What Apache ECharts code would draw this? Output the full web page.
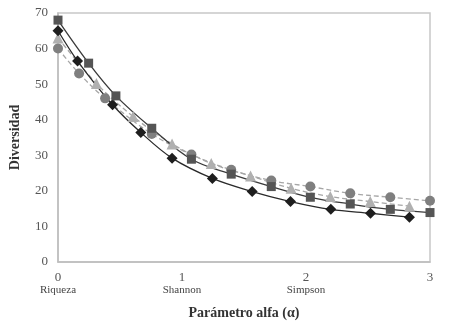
<!DOCTYPE html>
<html>
<head>
<meta charset="utf-8">
<script src="https://cdn.jsdelivr.net/npm/echarts@6/dist/echarts.min.js"></script>
<style>
  html, body { margin: 0; padding: 0; background: #fff; }
  #show_picture { width: 454px; height: 331px; }
</style>
</head>
<body>
<div id="show_picture"></div>
<script>
// valores
const alphaRombo = [0, 0.158, 0.44, 0.668, 0.92, 1.245, 1.566, 1.875, 2.2, 2.52, 2.834];
const divRombo = [65, 56.5, 44.2, 36.4, 29.2, 23.5, 19.8, 17, 14.8, 13.7, 12.6];

const alphaCuadro = [0, 0.247, 0.467, 0.756, 1.076, 1.397, 1.72, 2.035, 2.357, 2.68, 3.0];
const divCuadro = [68, 55.9, 46.7, 37.6, 28.9, 24.7, 21.2, 18.2, 16.3, 14.8, 13.9];

const alphaTriang = [0, 0.31, 0.606, 0.92, 1.236, 1.553, 1.88, 2.196, 2.518, 2.834];
const divTriang = [63, 50.2, 40.9, 33.2, 27.7, 24.2, 20.7, 18.4, 17, 15.7];

const alphaCirc = [0, 0.17, 0.38, 0.756, 1.076, 1.397, 1.72, 2.035, 2.357, 2.68, 3.0];
const divCirc = [60, 53, 46, 36, 30.2, 25.9, 22.9, 21.2, 19.3, 18.2, 17.2];

const xTicks = {0: 'Riqueza', 1: 'Shannon', 2: 'Simpson'};

const zip = (a, b) => a.map((x, i) => [x, b[i]]);

let myChart = echarts.init(document.getElementById('show_picture'));

const serif = '"Liberation Serif", "DejaVu Serif", serif';

function serie(name, data, symbol, color, lineColor, dashed, size) {
    return {
        name: name,
        type: 'line',
        data: data,
        smooth: 0.35,
        symbol: symbol,
        symbolSize: size,
        itemStyle: {color: color},
        lineStyle: {color: lineColor, width: 1.3, type: dashed ? [5, 3] : 'solid'}
    };
}

let option = {
    animation: false,
    grid: {
        left: 57, right: 24, top: 13, bottom: 69,
        show: true, borderColor: '#c8c8c8', borderWidth: 1.5
    },
    xAxis: {
        type: 'value',
        min: 0, max: 3, interval: 1,
        name: 'Parámetro alfa (α)',
        nameLocation: 'middle',
        nameGap: 44,
        nameTextStyle: {fontFamily: serif, fontWeight: 'bold', fontSize: 14, color: '#333'},
        axisLine: {show: true, lineStyle: {color: '#bdbdbd', width: 1.5}},
        axisTick: {show: false},
        splitLine: {show: false},
        axisLabel: {
            margin: 9,
            fontFamily: serif,
            color: '#555',
            lineHeight: 13,
            formatter: v => xTicks[v] !== undefined ? '{n|' + v + '}\n{s|' + xTicks[v] + '}' : '{n|' + v + '}\n{s| }',
            rich: {
                n: {fontFamily: serif, fontSize: 13, color: '#555', lineHeight: 13},
                s: {fontFamily: serif, fontSize: 11, color: '#444', lineHeight: 13}
            }
        }
    },
    yAxis: {
        type: 'value',
        min: 0, max: 70, interval: 10,
        name: 'Diversidad',
        nameLocation: 'middle',
        nameGap: 36,
        nameTextStyle: {fontFamily: serif, fontWeight: 'bold', fontSize: 14, color: '#333'},
        axisLine: {show: true, lineStyle: {color: '#bdbdbd', width: 1.5}},
        axisTick: {show: false},
        splitLine: {show: false},
        axisLabel: {margin: 10, fontFamily: serif, fontSize: 13, color: '#555'}
    },
    series: [
        serie('Serie 4', zip(alphaCirc, divCirc), 'circle', '#7f7f7f', '#a6a6a6', true, 10),
        serie('Serie 3', zip(alphaTriang, divTriang), 'triangle', '#b0b0b0', '#a6a6a6', true, 11),
        serie('Serie 1', zip(alphaRombo, divRombo), 'diamond', '#1e1e1e', '#2a2a2a', false, 11),
        serie('Serie 2', zip(alphaCuadro, divCuadro), 'rect', '#555555', '#3a3a3a', false, 9)
    ]
};

option && myChart.setOption(option);
</script>
</body>
</html>
